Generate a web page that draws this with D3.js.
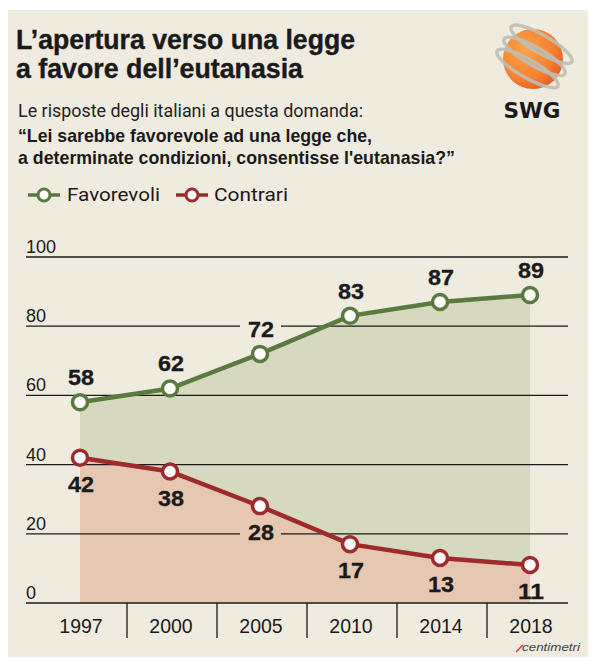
<!DOCTYPE html>
<html><head><meta charset="utf-8">
<script src="https://cdn.jsdelivr.net/npm/d3@7"></script>
<style>body{margin:0;background:#fff;} svg{display:block;}</style>
</head><body>
<script>
const years = ["1997","2000","2005","2010","2014","2018"];
const favorevoli = [58,62,72,83,87,89];
const contrari = [42,38,28,17,13,11];
const yTicks = [0,20,40,60,80,100];
const titleLines = ["L’apertura verso una legge","a favore dell’eutanasia"];
const subtitle = "Le risposte degli italiani a questa domanda:";
const question = ["“Lei sarebbe favorevole ad una legge che,","a determinate condizioni, consentisse l'eutanasia?”"];
const seriesNames = ["Favorevoli","Contrari"];

const W=600,H=671;
const BG="#efebdf", GREEN="#5a7a40", RED="#9f2a2b", GREENA="#d6d8bf", REDA="#e6c7b2", INK="#1a1a1a";
const svg=d3.select("body").append("svg").attr("width",W).attr("height",H);
svg.append("rect").attr("x",8).attr("y",10).attr("width",580).attr("height",647).attr("fill",BG);

// Title
const FF="'Liberation Sans', Arial, sans-serif";
const tl=[{t:titleLines[0],y:49,len:339},{t:titleLines[1],y:78,len:287}];
svg.selectAll(".title").data(tl).join("text").attr("x",16).attr("y",d=>d.y)
  .attr("font-family",FF).attr("font-weight","bold").attr("font-size",28.5).attr("fill",INK)
  .attr("stroke",INK).attr("stroke-width",0.4)
  .attr("textLength",d=>d.len).attr("lengthAdjust","spacingAndGlyphs").text(d=>d.t);
svg.append("text").attr("x",18).attr("y",117).attr("font-family","Roboto, "+FF).attr("font-weight",400)
  .attr("font-size",19).attr("fill","#222").attr("textLength",345).attr("lengthAdjust","spacingAndGlyphs").text(subtitle);
const ql=[{t:question[0],y:142,len:354},{t:question[1],y:164,len:437}];
svg.selectAll(".q").data(ql).join("text").attr("x",18).attr("y",d=>d.y)
  .attr("font-family",FF).attr("font-weight","bold").attr("font-size",18.5).attr("fill",INK)
  .attr("textLength",d=>d.len).attr("lengthAdjust","spacingAndGlyphs").text(d=>d.t);

// Logo
const defs=svg.append("defs");
const rg=defs.append("radialGradient").attr("id","sph").attr("cx","35%").attr("cy","35%").attr("r","70%");
rg.append("stop").attr("offset","0%").attr("stop-color","#fba24a");
rg.append("stop").attr("offset","70%").attr("stop-color","#f4812f");
rg.append("stop").attr("offset","100%").attr("stop-color","#e5602a");
const logo=svg.append("g").attr("transform","translate(533,59)");
logo.append("circle").attr("r",30).attr("fill","url(#sph)");
[-17,-3,11].forEach(o=>{
  logo.append("ellipse").attr("cx",0).attr("cy",o).attr("rx",35).attr("ry",9)
   .attr("transform","rotate(30)").attr("fill","none").attr("stroke","#c0beb4").attr("stroke-width",3.5).attr("opacity",0.9);
});
svg.append("text").attr("x",532).attr("y",118).attr("text-anchor","middle").attr("font-family","'DejaVu Sans', sans-serif")
  .attr("font-weight","bold").attr("font-size",21).attr("fill",INK).attr("textLength",57).attr("lengthAdjust","spacingAndGlyphs").text("SWG");

// Legend
const leg=[{n:seriesNames[0],c:GREEN,x0:28,tx:67,len:93},{n:seriesNames[1],c:RED,x0:176,tx:214,len:74}];
leg.forEach(l=>{
  svg.append("line").attr("x1",l.x0).attr("x2",l.x0+32).attr("y1",195).attr("y2",195).attr("stroke",l.c).attr("stroke-width",3.5);
  svg.append("circle").attr("cx",l.x0+16).attr("cy",195).attr("r",6).attr("fill","#fff").attr("stroke",l.c).attr("stroke-width",3);
  svg.append("text").attr("x",l.tx).attr("y",201).attr("font-family","Roboto, "+FF).attr("font-size",19).attr("fill",INK)
    .attr("textLength",l.len).attr("lengthAdjust","spacingAndGlyphs").text(l.n);
});

// Scales
const x=d3.scalePoint().domain(years).range([80,530]);
const y=d3.scaleLinear().domain([0,100]).range([603,257]);
const gridX0=26, gridX1=568;

const favData=years.map((yr,i)=>({yr,v:favorevoli[i]}));
const conData=years.map((yr,i)=>({yr,v:contrari[i]}));

// Areas
const area=d3.area().x(d=>x(d.yr)).y0(y(0)).y1(d=>y(d.v));
svg.append("path").datum(favData).attr("d",area).attr("fill",GREENA);
svg.append("path").datum(conData).attr("d",area).attr("fill",REDA);

// Grid
const grid=svg.append("g");
grid.selectAll("line").data(yTicks).join("line").attr("x1",gridX0).attr("x2",gridX1)
  .attr("y1",d=>y(d)).attr("y2",d=>y(d)).attr("stroke",INK).attr("stroke-width",1.3);
svg.selectAll(".ytl").data(yTicks).join("text").attr("x",gridX0).attr("y",d=>y(d)-4)
  .attr("font-family",FF).attr("font-size",18).attr("fill",INK).text(d=>d);

// X axis separators and labels
const step=x.step();
const seps=years.slice(1).map(yr=>x(yr)-step/2+2);
svg.selectAll(".sep").data(seps).join("line").attr("x1",d=>d).attr("x2",d=>d).attr("y1",y(0)).attr("y2",638)
  .attr("stroke",INK).attr("stroke-width",1.3);
svg.selectAll(".xtl").data(years).join("text").attr("x",d=>x(d)+1).attr("y",633).attr("text-anchor","middle")
  .attr("font-family",FF).attr("font-size",19.5).attr("fill",INK).text(d=>d);

// Label gaps in grid lines
function gaps(data,dy,col){
  data.forEach(d=>{
    const cy=y(d.v)+dy-7;
    yTicks.forEach(t=>{
      if(Math.abs(y(t)-cy)<10){
        svg.append("line").attr("x1",x(d.yr)-20).attr("x2",x(d.yr)+21).attr("y1",y(t)).attr("y2",y(t))
          .attr("stroke",col).attr("stroke-width",3);
      }
    });
  });
}
gaps(favData,-17,BG);
gaps(conData,34,REDA);

// Lines + points
const line=d3.line().x(d=>x(d.yr)).y(d=>y(d.v));
[[favData,GREEN],[conData,RED]].forEach(([data,c])=>{
  svg.append("path").datum(data).attr("d",line).attr("fill","none").attr("stroke",c).attr("stroke-width",4.5);
  svg.append("g").selectAll("circle").data(data).join("circle").attr("cx",d=>x(d.yr)).attr("cy",d=>y(d.v))
    .attr("r",7.5).attr("fill","#fff").attr("stroke",c).attr("stroke-width",3.5);
});

// Value labels
function valLabels(data,dy){
  svg.append("g").selectAll("text").data(data).join("text").attr("x",d=>x(d.yr)+1).attr("y",d=>y(d.v)+dy)
    .attr("text-anchor","middle").attr("font-family",FF).attr("font-weight","bold").attr("font-size",21.5)
    .attr("fill",INK).attr("stroke",INK).attr("stroke-width",0.3)
    .attr("textLength",d=>String(d.v).length*13).attr("lengthAdjust","spacingAndGlyphs").text(d=>d.v);
}
valLabels(favData,-17);
valLabels(conData,34);

// Footer
svg.append("path").attr("d","M516,652 L523,645").attr("stroke","#d33").attr("stroke-width",1.5);
svg.append("text").attr("x",580).attr("y",651).attr("text-anchor","end").attr("font-family",FF).attr("font-style","italic")
  .attr("font-size",11).attr("fill","#444").attr("textLength",58).attr("lengthAdjust","spacingAndGlyphs").text("centimetri");
</script>
</body></html>
